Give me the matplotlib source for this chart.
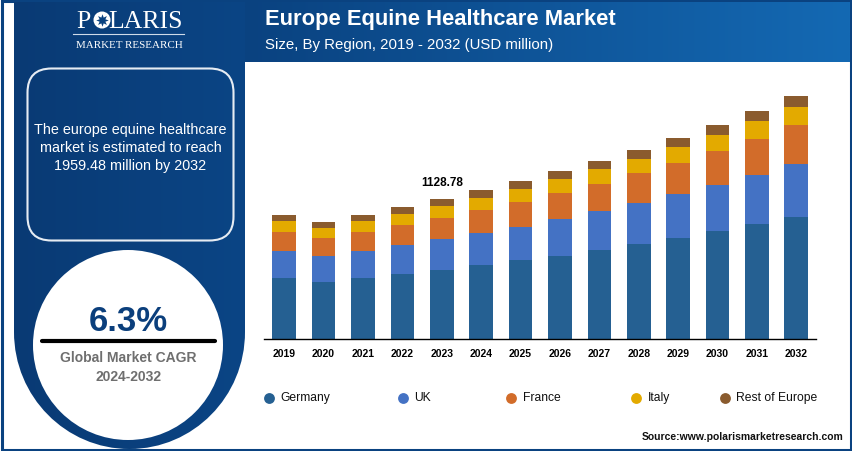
import numpy as np
import matplotlib
matplotlib.use("Agg")
import matplotlib.pyplot as plt
from matplotlib.patches import Circle, FancyBboxPatch, PathPatch, Rectangle
from matplotlib.path import Path
from matplotlib.colors import LinearSegmentedColormap

plt.rcParams['font.family'] = ['Liberation Sans', 'DejaVu Sans']

# values (USD million)
years = ['2019', '2020', '2021', '2022', '2023', '2024', '2025',
         '2026', '2027', '2028', '2029', '2030', '2031', '2032']
germany = [494, 462, 494, 521, 559, 594, 634, 672, 715, 763, 811, 868, 924, 985]
uk = [218, 210, 218, 234, 247, 263, 271, 298, 314, 330, 355, 373, 400, 422]
france = [153, 140, 153, 161, 172, 180, 201, 210, 223, 242, 255, 271, 290, 314]
italy = [86, 81, 86, 91, 91, 102, 102, 107, 116, 118, 126, 134, 140, 145]
rest = [51, 51, 48, 56, 60, 59, 64, 67, 67, 73, 75, 81, 86, 93]
series_names = ['Germany', 'UK', 'France', 'Italy', 'Rest of Europe']
series_colors = ['#256092', '#4472c4', '#d26c2a', '#e3aa00', '#8a5b2e']
legend_x = [269, 403, 511, 636, 725]
highlight_year = '2023'
highlight_label = '1128.78'

W, H = 852, 452
NAVY = '#0a4280'

fig = plt.figure(figsize=(W / 100, H / 100), dpi=100, facecolor='white')

# background layer in pixel coords
bg = fig.add_axes([0, 0, 1, 1])
bg.set_xlim(0, W)
bg.set_ylim(H, 0)
bg.axis('off')

panel_cmap = LinearSegmentedColormap.from_list('panel', ['#093a74', '#0b4585'])
head_cmap = LinearSegmentedColormap.from_list('head', ['#0a4280', '#1469b3'])
grad = np.linspace(0, 1, 256).reshape(1, -1)

# outer frame
bg.add_patch(Rectangle((1.5, 1.5), W - 3, H - 3, fc='white', ec=NAVY, lw=2.2, zorder=1))

# header band
bg.imshow(grad, cmap=head_cmap, extent=(245, 850, 63, 3), aspect='auto', zorder=2)

# left panel with the rounded U shape at the bottom
k = 0.5523
cx, rx, top, mid, bottom = 129.5, 115.5, 3, 333, 450
panel = Path([(cx - rx, top), (cx - rx, mid),
              (cx - rx, mid + k * (bottom - mid)), (cx - k * rx, bottom), (cx, bottom),
              (cx + k * rx, bottom), (cx + rx, mid + k * (bottom - mid)), (cx + rx, mid),
              (cx + rx, top), (cx - rx, top)],
             [Path.MOVETO, Path.LINETO, Path.CURVE4, Path.CURVE4, Path.CURVE4,
              Path.CURVE4, Path.CURVE4, Path.CURVE4, Path.LINETO, Path.CLOSEPOLY])
panel_patch = PathPatch(panel, fc='none', ec='none', transform=bg.transData, zorder=2)
bg.add_patch(panel_patch)
im = bg.imshow(grad, cmap=panel_cmap, extent=(14, 245, 450, 3), aspect='auto', zorder=2)
im.set_clip_path(panel_patch)
bg.set_xlim(0, W)
bg.set_ylim(H, 0)

# logo
bg.text(76.5, 21.5, 'P', color='white', family='Liberation Serif', fontsize=18.5, va='center', ha='left', zorder=4)
bg.add_patch(Circle((102, 21), 8.5, fc='white', ec='none', zorder=4))
bg.plot([102], [21], marker=(8, 1, 0), ms=9, color=NAVY, mew=0, zorder=5)
bg.text(182.5, 21.5, 'LARIS', color='white', family='Liberation Serif', fontsize=18.5, va='center', ha='right', zorder=4)
bg.plot([73, 184], [35, 35], color='#cfdbe9', lw=0.8, zorder=4)
bg.text(129, 45, 'MARKET RESEARCH', color='white', family='Liberation Serif', fontsize=7.9, va='center', ha='center', zorder=4)

# rounded text box
bg.add_patch(FancyBboxPatch((27.5, 69.5), 206, 172, boxstyle='round,pad=0,rounding_size=24',
                            fc='none', ec='#e6ecf3', lw=1.5, zorder=4))
bg.text(130.5, 130, 'The europe equine healthcare', color='white', fontsize=10.35, ha='center', va='center', zorder=4)
bg.text(130.5, 148, 'market is estimated to reach', color='white', fontsize=10.35, ha='center', va='center', zorder=4)
bg.text(130.5, 166, '1959.48 million by 2032', color='white', fontsize=10.35, ha='center', va='center', zorder=4)

# CAGR circle
bg.add_patch(Circle((128, 346), 95, fc='white', ec='none', zorder=4))
bg.text(128, 322, '6.3%', color='#0b3f7c', fontsize=25, fontweight='bold', ha='center', va='center', zorder=5)
bg.plot([42, 215], [341.5, 341.5], color='black', lw=3, solid_capstyle='round', zorder=5)
bg.text(128.5, 358, 'Global Market CAGR', color='#6f6f6f', fontsize=10, fontweight='bold', ha='center', va='center', zorder=5)
bg.text(128.5, 377, '2024-2032', color='#6f6f6f', fontsize=10, fontweight='bold', ha='center', va='center', zorder=5)

# header text
bg.text(265, 19, 'Europe Equine Healthcare Market', color='white', fontsize=15.8, fontweight='bold', ha='left', va='center', zorder=4)
bg.text(265, 45.5, 'Size, By Region, 2019 - 2032 (USD million)', color='white', fontsize=10.8, ha='left', va='center', zorder=4)

# bar chart, 8.06 USD million per pixel
ax_left, ax_right, ax_base, ax_top = 264, 816, 340, 90
ax = fig.add_axes([ax_left / W, 1 - ax_base / H, (ax_right - ax_left) / W, (ax_base - ax_top) / H])
ax.patch.set_alpha(0)
x = np.arange(len(years))
bottoms = np.zeros(len(years))
for vals, name, col in zip([germany, uk, france, italy, rest], series_names, series_colors):
    ax.bar(x, vals, width=0.6, bottom=bottoms, color=col, label=name)
    bottoms += np.array(vals)
ax.set_xlim(-0.513, 13.5)
ax.set_ylim(0, (ax_base - ax_top) * 8.06)
ax.set_xticks(x)
ax.set_xticklabels(years, fontsize=7.5, fontweight='bold')
ax.tick_params(axis='x', length=0, pad=6.5)
ax.set_yticks([])
for side in ['top', 'left', 'right']:
    ax.spines[side].set_visible(False)
ax.spines['bottom'].set_linewidth(1)

i = years.index(highlight_year)
ax.annotate(highlight_label, (x[i], bottoms[i]), xytext=(0, 17), textcoords='offset pixels',
            ha='center', va='center', fontsize=8.5, fontweight='bold')

# legend
for lx, name, col in zip(legend_x, series_names, series_colors):
    bg.plot([lx], [398.5], marker='o', ms=7.8, color=col, mew=0, zorder=4)
    bg.text(lx + 11.5, 398, name, fontsize=8.7, color='#111111', ha='left', va='center', zorder=4)

bg.text(843, 437, 'Source:www.polarismarketresearch.com', fontsize=7.5, fontweight='bold', color='#111111', ha='right', va='center', zorder=4)

fig.savefig('out.png', dpi=100)
